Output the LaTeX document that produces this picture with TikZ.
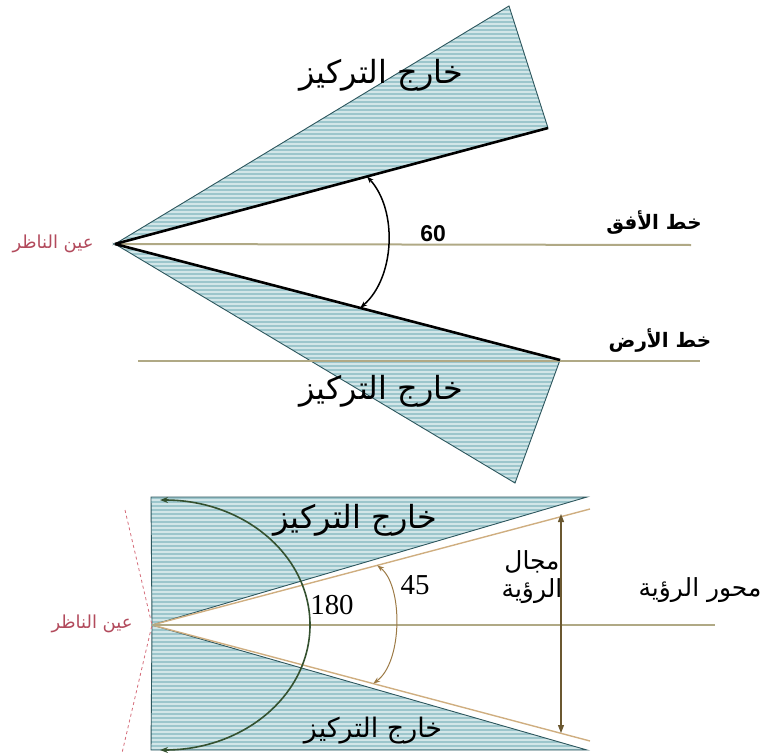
\documentclass[tikz,border=0pt]{standalone}
\usepackage{fontspec}
\setmainfont{Liberation Serif}
\newfontfamily\arabicfont[Script=Arabic]{DejaVu Sans}
\newfontfamily\numfont{Liberation Sans}
\TeXXeTstate=1
\usetikzlibrary{arrows.meta, calc}
\definecolor{WedgeFill}{HTML}{9CC6CC}
\definecolor{WedgeStripe}{HTML}{D2E6E8}
\definecolor{WedgeEdge}{HTML}{2E575E}
\definecolor{LevelColor}{HTML}{B0A985}
\definecolor{ViewColor}{HTML}{CFAE80}
\definecolor{FieldColor}{HTML}{6B5830}
\definecolor{WideColor}{HTML}{34512F}
\definecolor{NarrowColor}{HTML}{9C7A45}
\definecolor{EyeColor}{HTML}{B24A5C}
\definecolor{DashColor}{HTML}{D46A78}

\begin{document}
\begin{tikzpicture}[
        x=1bp, y=-1bp,
        wedge/.style={fill=WedgeFill, draw=WedgeEdge, line width=0.9bp,
          path picture={\foreach \yy in {0,4,...,760} \draw[WedgeStripe, line width=1.7bp] (0,\yy) -- (765,\yy);}},
        sight/.style={black, line width=2.6bp},
        levelline/.style={LevelColor, line width=2bp},
        viewline/.style={ViewColor, line width=1.4bp},
        arrowsixty/.style={{Stealth[length=7bp,width=5bp]}-{Stealth[length=7bp,width=5bp]}, black, line width=1.5bp},
        arrowwide/.style={{Stealth[length=8bp,width=6bp]}-{Stealth[length=8bp,width=6bp]}, WideColor, line width=1.6bp},
        arrownarrow/.style={{Stealth[length=7bp,width=5bp]}-{Stealth[length=7bp,width=5bp]}, NarrowColor, line width=1bp},
        arrowfield/.style={{Triangle[length=8bp,width=6bp]}-{Triangle[length=8bp,width=6bp]}, FieldColor, line width=1.2bp},
        eyedash/.style={DashColor, dashed, line width=0.8bp},
        blurlbl/.style={inner sep=0pt, font=\arabicfont\fontsize{32}{36}\selectfont},
        eyelbl/.style={inner sep=0pt, text=EyeColor, font=\arabicfont\fontsize{18}{21}\selectfont},
        levellbl/.style={inner sep=0pt, font=\arabicfont\bfseries\fontsize{20}{24}\selectfont},
        axislbl/.style={inner sep=0pt, align=center, font=\arabicfont\fontsize{25}{28}\selectfont},
        numlbl/.style={inner sep=0pt, font=\fontsize{29}{32}\selectfont}
      ]
        \useasboundingbox (0,0) rectangle (765,753);

        % Top view: eye, horizon and ground
        \coordinate (eyeA) at (115,244);
        \coordinate (upTip) at (509,6);
        \coordinate (upEnd) at (548,128);
        \coordinate (lowEnd) at (560,360);
        \coordinate (lowTip) at (515,483);
        \coordinate (horizonEnd) at (691,245);
        \coordinate (groundStart) at (138,361);
        \coordinate (groundEnd) at (700,361);

        \draw[wedge] (eyeA) -- (upTip) -- (upEnd) -- cycle;
        \draw[wedge] (eyeA) -- (lowEnd) -- (lowTip) -- cycle;
        \draw[levelline] (eyeA) -- (horizonEnd);
        \draw[levelline] (groundStart) -- (groundEnd);
        \draw[sight] (eyeA) -- (upEnd);
        \draw[sight] (eyeA) -- (lowEnd);

        \coordinate (sixtyTop) at ($(eyeA)!0.582!(upEnd)$);
        \coordinate (sixtyBot) at ($(eyeA)!0.551!(lowEnd)$);
        \draw[arrowsixty] (sixtyBot) .. controls (395,278) and (398,210) .. (sixtyTop);

        \node[blurlbl] (blurUp) at (381,75) {\beginR خارج التركيز\endR};
        \node[blurlbl] (blurLow) at (381,391) {\beginR خارج التركيز\endR};
        \node[eyelbl] (eyeTopLbl) at (53,244) {\beginR عين الناظر\endR};
        \node[levellbl] (horizonLbl) at (654,223) {\beginR خط الأفق\endR};
        \node[levellbl] (groundLbl) at (660,341) {\beginR خط الأرض\endR};
        \node[inner sep=0pt, font=\numfont\bfseries\fontsize{23}{26}\selectfont] (sixtyLbl) at (433,234) {60};

        % Bottom view: field of vision
        \coordinate (eyeB) at (152,625);
        \coordinate (boxTL) at (151,497);
        \coordinate (boxTR) at (587,497);
        \coordinate (boxBR) at (587,750);
        \coordinate (boxBL) at (151,750);
        \coordinate (viewUp) at (590,509);
        \coordinate (viewDown) at (590,741);
        \coordinate (axisEnd) at (715,625);

        \draw[wedge] (boxTL) -- (boxTR) -- (eyeB) -- cycle;
        \draw[wedge] (eyeB) -- (boxBR) -- (boxBL) -- cycle;
        \draw[viewline] (eyeB) -- (viewUp);
        \draw[viewline] (eyeB) -- (viewDown);
        \draw[levelline] (eyeB) -- (axisEnd);

        \coordinate (dashTop) at (125,510);
        \coordinate (dashBot) at (122,753);
        \draw[eyedash] (dashTop) -- (eyeB) -- (dashBot);

        \coordinate (fieldTop) at (561,514);
        \coordinate (fieldBot) at (561,733);
        \draw[arrowfield] (fieldTop) -- (fieldBot);

        \coordinate (wideTop) at (160,500);
        \coordinate (wideMid) at (310,625);
        \coordinate (wideBot) at (160,750);
        \draw[arrowwide] (wideTop) .. controls (245,500) and (310,556) .. (wideMid)
          .. controls (310,694) and (245,750) .. (wideBot);

        \coordinate (narrowTop) at ($(eyeB)!0.514!(viewUp)$);
        \coordinate (narrowBot) at ($(eyeB)!0.505!(viewDown)$);
        \draw[arrownarrow] (narrowTop) .. controls (403,585) and (403,662) .. (narrowBot);

        \node[blurlbl] (blurBoxUp) at (355,520) {\beginR خارج التركيز\endR};
        \node[blurlbl, font=\arabicfont\fontsize{27}{30}\selectfont] (blurBoxLow) at (373,731) {\beginR خارج التركيز\endR};
        \node[eyelbl] (eyeBotLbl) at (92,624) {\beginR عين الناظر\endR};
        \node[axislbl] (axisLbl) at (700,590) {\beginR محور الرؤية\endR};
        \node[axislbl] (fieldLbl) at (532,577) {\beginR مجال\endR\\\beginR الرؤية\endR};
        \node[numlbl] (narrowLbl) at (415,585) {45};
        \node[numlbl] (wideLbl) at (332,605) {180};
      \end{tikzpicture}
\end{document}
